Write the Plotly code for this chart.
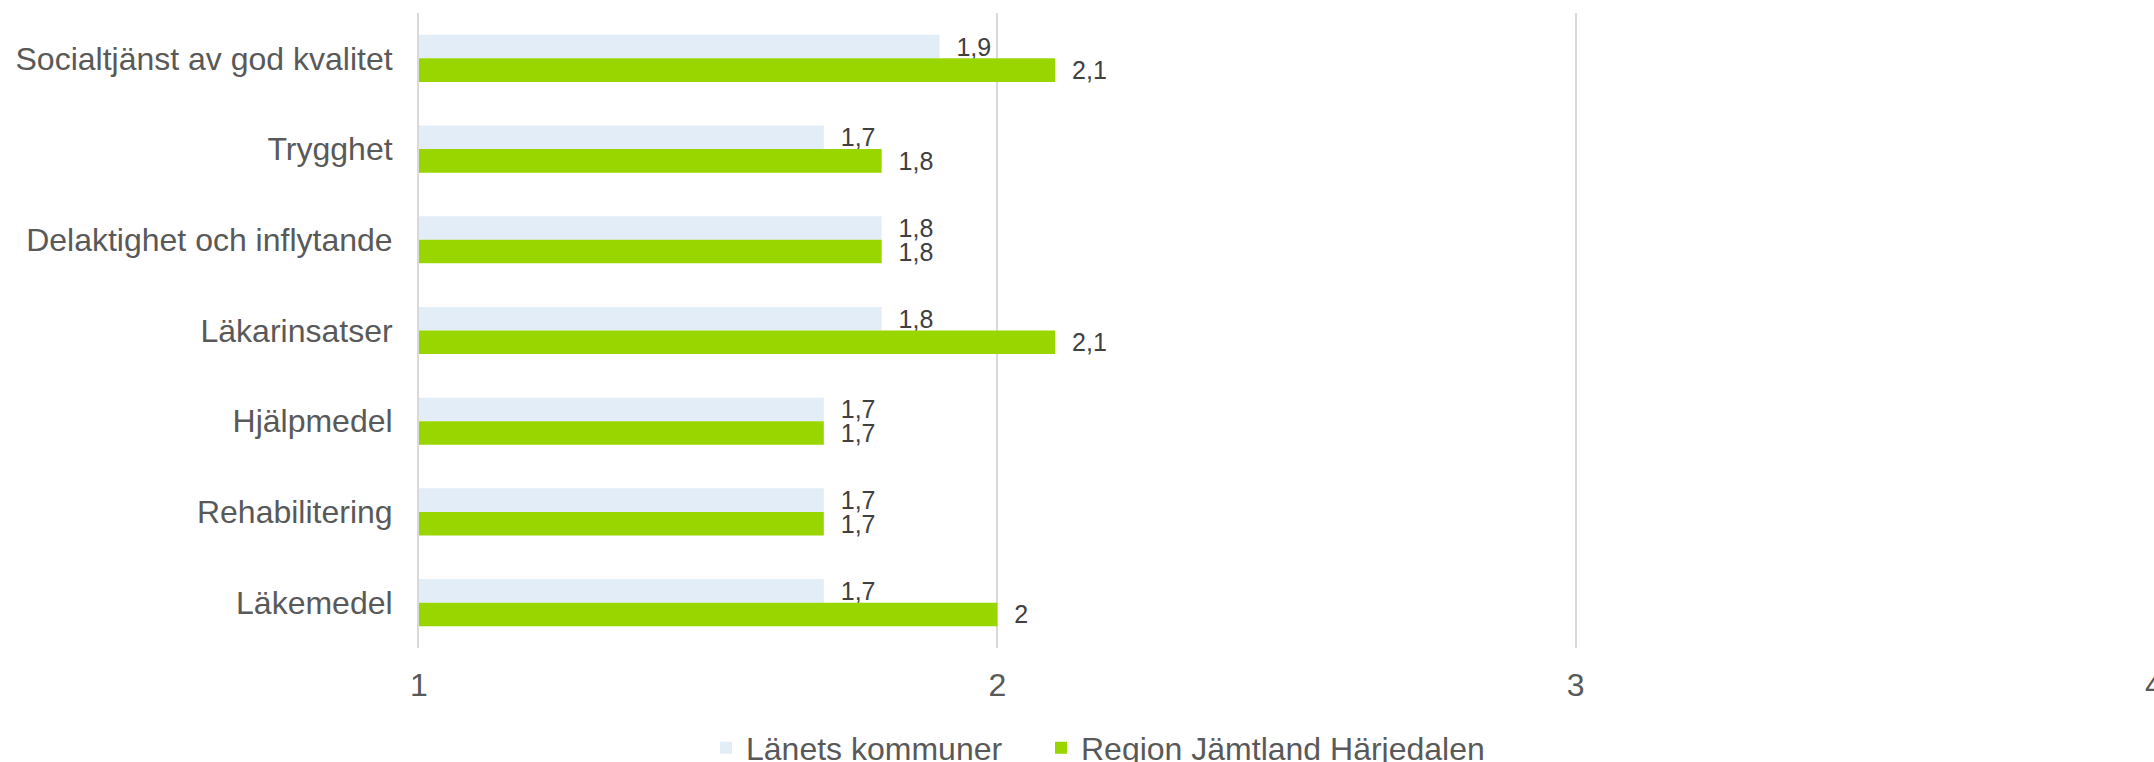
import plotly.graph_objects as go

categories = [
    "Socialtjänst av god kvalitet",
    "Trygghet",
    "Delaktighet och inflytande",
    "Läkarinsatser",
    "Hjälpmedel",
    "Rehabilitering",
    "Läkemedel",
]
lanets_kommuner = [1.9, 1.7, 1.8, 1.8, 1.7, 1.7, 1.7]
region_jh = [2.1, 1.8, 1.8, 2.1, 1.7, 1.7, 2.0]
x_ticks = [1, 2, 3, 4]

series_names = ["Länets kommuner", "Region Jämtland Härjedalen"]
colors = ["#E3EDF7", "#99D600"]
legend_ids = ["legend", "legend2"]
legend_x = [706, 1041]

FONT = "Liberation Sans, Arial, sans-serif"


def fmt(v):
    return "\u00a0\u00a0" + f"{v:g}".replace(".", ",")


fig = go.Figure()
for name, vals, col, lg in zip(series_names, [lanets_kommuner, region_jh], colors, legend_ids):
    fig.add_trace(go.Bar(
        y=categories,
        x=vals,
        orientation="h",
        name=name,
        legend=lg,
        marker=dict(color=col, line=dict(width=0)),
        text=[fmt(v) for v in vals],
        textposition="outside",
        textfont=dict(family=FONT, size=25, color="#404040"),
        constraintext="none",
        cliponaxis=False,
        hoverinfo="skip",
    ))


def legend_cfg(xpx):
    return dict(
        orientation="h",
        xref="container",
        yref="container",
        x=xpx / 2154,
        xanchor="left",
        y=1 - 748 / 762,
        yanchor="middle",
        bgcolor="rgba(0,0,0,0)",
        font=dict(family=FONT, size=32, color="#595959"),
        itemclick=False,
        itemdoubleclick=False,
    )


fig.update_layout(
    template="none",
    width=2154,
    height=762,
    margin=dict(l=419, r=0, t=13, b=114, autoexpand=False),
    paper_bgcolor="white",
    plot_bgcolor="white",
    barmode="group",
    bargap=0.48,
    bargroupgap=0,
    font=dict(family=FONT, size=32, color="#595959"),
    showlegend=True,
    legend=legend_cfg(legend_x[0]),
    legend2=legend_cfg(legend_x[1]),
    xaxis=dict(
        range=[1, 4],
        tickvals=x_ticks,
        ticktext=[str(t) for t in x_ticks],
        showgrid=True,
        gridcolor="#D9D9D9",
        gridwidth=2,
        zeroline=False,
        showline=False,
        ticks="",
        ticklabelstandoff=15,
        ticklabeloverflow="allow",
        automargin=False,
        tickfont=dict(family=FONT, size=32, color="#595959"),
    ),
    yaxis=dict(
        type="category",
        categoryorder="array",
        categoryarray=categories,
        autorange="reversed",
        showgrid=False,
        zeroline=False,
        showline=True,
        linecolor="#D9D9D9",
        linewidth=2,
        ticks="",
        ticklabelstandoff=18,
        automargin=False,
        tickfont=dict(family=FONT, size=32, color="#595959"),
    ),
)

fig.write_html(
    "out.html",
    config={"displayModeBar": False, "staticPlot": True},
    post_script="document.body.style.margin='0';document.body.style.overflow='hidden';",
)
